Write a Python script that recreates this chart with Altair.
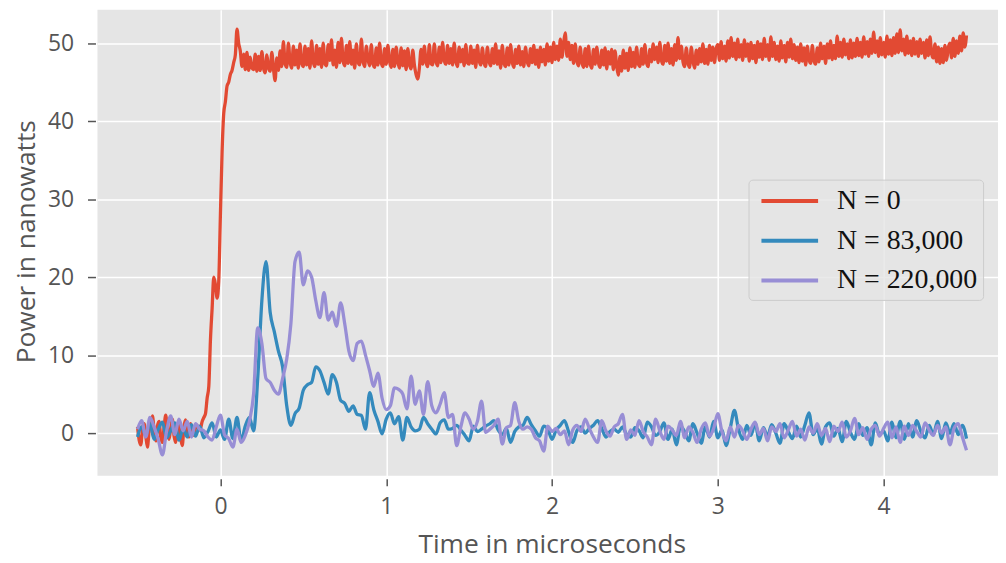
import altair as alt
import pandas as pd

# ---------------- data ----------------
series_names = ["N = 0", "N = 83,000", "N = 220,000"]
series_colors = ["#E24A33", "#348ABD", "#988ED5"]
x_ticks = [0, 1, 2, 3, 4]
y_ticks = [0, 10, 20, 30, 40, 50]

# N = 0 : sampled every 0.01 us starting at -0.5 us
red_t0 = -0.5
red_dt = 0.01
red_vals = [
    # -0.50 .. -0.11
    0.8, -0.9, -1.5, 0.6, 1.2, -0.4, -1.8, 0.3, 1.0, 2.2,
    0.4, -1.0, 0.9, 1.5, -0.5, -1.2, 0.7, 2.3, 0.5, -0.8,
    0.6, 1.8, -0.3, -1.2, 0.4, 1.1, -0.6, -1.6, 0.8, 1.7,
    0.2, -0.5, 1.2, 0.5, -0.3, 0.8, 1.0, 0.4, 0.6, 1.5,
    # -0.10 .. 0.19
    2.0, 2.5, 4.5, 6.0, 12.0, 16.0, 20.0, 19.0, 17.3, 19.5,
    28.0, 36.0, 41.0, 42.5, 44.5, 45.0, 46.0, 46.5, 47.5, 48.5,
    51.8, 50.0, 49.0, 47.0, 48.6, 46.6, 48.8, 46.5, 48.2, 46.8,
    # 0.20 .. 4.50
    46.6, 48.6, 46.4, 48.3, 46.5, 48.9, 46.8, 46.2, 48.5, 46.9,
    46.4, 48.8, 46.7, 45.2, 48.1, 46.5, 49.0, 47.0, 50.2, 47.4,
    46.9, 50.0, 47.6, 46.8, 49.6, 47.2, 49.1, 46.8, 49.9, 47.5,
    47.0, 49.6, 47.2, 49.3, 46.8, 50.3, 47.6, 47.0, 49.7, 47.3,
    49.3, 46.9, 50.0, 47.4, 47.1, 49.8, 47.8, 50.4, 47.2, 49.1,
    46.9, 50.1, 47.5, 50.6, 47.7, 47.1, 49.7, 47.4, 50.2, 47.3,
    49.1, 46.8, 49.9, 47.6, 47.2, 50.5, 47.7, 47.0, 49.6, 47.9,
    47.1, 49.8, 47.4, 46.9, 49.4, 47.2, 50.0, 47.5, 47.0, 49.3,
    47.3, 49.7, 47.7, 46.9, 49.2, 47.0, 49.5, 47.6, 46.8, 49.4,
    47.1, 49.0, 46.6, 49.3, 47.3, 46.7, 49.1, 47.2, 46.0, 45.4,
    46.8, 49.2, 47.3, 49.6, 47.6, 47.0, 49.8, 47.4, 47.2, 49.9,
    47.7, 47.1, 49.5, 47.5, 50.1, 47.8, 47.3, 49.7, 47.4, 49.3,
    47.2, 50.0, 47.7, 47.0, 49.5, 47.6, 49.2, 47.1, 49.8, 47.5,
    47.3, 49.6, 47.4, 49.1, 46.9, 49.7, 47.8, 47.2, 49.4, 47.5,
    47.0, 49.5, 47.7, 47.1, 49.3, 47.4, 49.9, 47.3, 49.0, 46.8,
    49.7, 47.5, 47.0, 49.4, 47.2, 49.8, 47.6, 46.9, 49.2, 47.4,
    49.6, 47.2, 48.9, 47.0, 49.5, 47.7, 47.1, 49.3, 47.5, 49.7,
    47.3, 49.1, 46.9, 49.5, 47.6, 49.2, 47.2, 49.9, 47.7, 49.5,
    47.5, 50.1, 47.9, 49.6, 47.8, 50.5, 48.2, 50.0, 51.3, 48.3,
    50.1, 47.9, 49.7, 47.4, 49.9, 47.7, 47.1, 49.5, 47.6, 46.9,
    49.3, 47.0, 49.6, 47.4, 46.8, 49.2, 47.3, 49.5, 47.5, 46.9,
    49.1, 47.2, 49.4, 46.7, 48.9, 47.3, 49.2, 46.6, 49.0, 47.1,
    45.9, 48.3, 46.4, 49.1, 46.8, 48.7, 46.5, 49.4, 47.0, 48.8,
    46.9, 49.5, 47.4, 47.0, 49.3, 47.3, 49.8, 47.5, 47.0, 49.2,
    47.6, 49.9, 47.9, 49.5, 47.5, 50.1, 47.8, 47.3, 49.7, 47.7,
    50.0, 47.4, 49.3, 47.2, 49.8, 47.8, 50.7, 48.0, 49.6, 47.6,
    47.0, 49.4, 47.5, 46.9, 49.5, 47.7, 46.8, 49.1, 47.3, 49.3,
    47.6, 49.9, 47.4, 49.2, 47.3, 49.7, 47.8, 49.5, 47.5, 49.3,
    49.8, 47.8, 50.2, 48.0, 49.6, 47.7, 50.3, 48.1, 50.7, 48.3,
    50.0, 47.9, 50.5, 48.2, 49.8, 47.8, 50.4, 48.3, 49.9, 47.7,
    50.1, 48.0, 49.7, 47.5, 50.2, 48.2, 49.9, 47.9, 50.6, 48.3,
    49.8, 47.8, 50.8, 48.3, 50.1, 47.9, 49.6, 47.7, 50.3, 48.1,
    49.7, 47.6, 50.1, 48.2, 50.5, 48.0, 49.8, 47.8, 49.5, 47.5,
    49.9, 47.7, 49.4, 47.2, 49.6, 47.9, 47.4, 49.7, 47.8, 47.3,
    49.4, 47.6, 50.0, 48.0, 49.6, 47.4, 49.9, 48.1, 50.3, 47.9,
    49.7, 48.0, 50.9, 48.3, 50.1, 48.2, 50.5, 48.5, 49.9, 48.0,
    50.4, 48.1, 50.0, 48.3, 50.6, 48.4, 50.1, 48.2, 50.8, 48.6,
    50.2, 48.3, 50.5, 48.7, 51.4, 48.8, 50.3, 48.3, 50.7, 48.5,
    50.1, 48.2, 50.9, 48.6, 50.4, 48.4, 50.7, 48.7, 51.2, 48.8,
    51.7, 49.0, 50.5, 48.5, 50.9, 48.7, 50.3, 48.4, 50.6, 48.6,
    50.2, 48.3, 50.5, 48.7, 50.1, 48.1, 50.4, 48.4, 50.8, 48.6,
    48.1, 49.9, 47.6, 49.5, 47.4, 49.3, 47.5, 49.7, 47.8, 49.4,
    50.0, 48.1, 50.6, 48.3, 50.3, 48.7, 50.9, 49.0, 51.3, 49.5,
    51.0,
]

# N = 83,000 and N = 220,000 : sampled every 0.025 us starting at -0.5 us
t0 = -0.5
dt = 0.025
blue_vals = [
    -0.5, 0.8, -0.3, 1.2, -0.8, 0.5, 1.4, -0.6,
    0.3, 1.3, -0.9, 0.6, -0.5, 1.1, -0.4, 0.9,
    -0.6, 0.2, 1.3, -0.5, 0.4, -0.8, 1.8, -0.7,
    2.0, -1.0, 0.9, 2.0, 0.3, 7.0, 17.0, 22.0,
    15.5, 13.0, 10.5, 8.5, 3.5, 1.0, 2.5, 3.2,
    5.5, 6.2, 6.5, 8.5, 8.0, 6.5, 5.0, 7.5,
    6.5, 4.2, 3.8, 2.8, 3.5, 2.4, 2.3, 0.5,
    5.2, 3.0, 1.5, -0.1, 1.8, 2.6, 1.2, 2.1,
    -0.9, 2.0, 0.8, 0.3, 0.5, 2.0, 1.2, 0.5,
    -0.1, 1.3, 1.7, 0.5, 0.6, 1.0, 0.4, -0.3,
    -1.0, 0.9, 0.2, 0.5, 0.9, 1.2, 1.6, 0.4,
    -0.2, 0.6, -1.2, 0.2, 0.8, 1.0, 2.0, 1.1,
    0.3, -0.4, 0.9, 0.5, -0.8, 0.4, 1.0, 1.6,
    0.2, -1.2, 0.3, 0.8, 0.0, 0.6, 1.0, 1.6,
    0.6, -0.5, 0.2, 0.5, 0.1, 0.8, -0.2, -0.5,
    0.7, 0.3, -0.6, 1.4, 0.8, -0.3, 0.2, 1.3,
    -0.8, 0.5, -1.5, 0.9, 0.2, -1.0, 1.2, 0.0,
    -1.3, 0.8, -0.5, 1.5, -0.6, 0.4, -1.6, 0.6,
    2.9, 0.5, -0.8, 1.0, -0.3, 1.3, -1.0, 0.7,
    -0.4, 1.1, 0.0, -1.3, 1.2, 0.2, -0.7, 0.9,
    -0.5, 1.0, 2.6, -0.2, 0.6, -1.4, 0.8, 1.3,
    -0.4, 0.6, -1.1, 1.5, 0.1, -0.8, 1.2, -0.3,
    0.7, -1.5, 1.3, -0.2, 0.3, -1.0, 1.4, -0.6,
    1.5, -0.8, 1.2, -0.5, 1.6, 0.2, -0.6, 1.0,
    -0.2, 1.5, -0.7, 1.3, 0.0, 1.2, -0.2, 1.0,
    -0.7,
]
purple_vals = [
    0.5, 1.6, -0.5, 2.0, 0.8, -0.8, -2.8, 0.2,
    2.2, -0.2, 1.8, 0.3, 1.5, -0.5, 1.2, 0.5,
    0.3, -0.5, -0.9, 0.8, 2.3, -0.2, -0.7, -1.8,
    0.5, -1.2, -0.3, 1.5, 5.0, 13.5, 11.5, 7.0,
    6.5, 5.5, 5.0, 7.0, 9.5, 14.0, 22.0, 23.2,
    19.0, 20.8, 20.0, 17.0, 14.8, 18.0, 14.5, 15.5,
    13.7, 16.7, 14.0, 10.5, 9.3, 11.5, 11.8, 10.0,
    8.0, 6.0, 7.7, 4.5, 3.0, 3.5, 5.8, 5.6,
    5.0, 3.1, 7.3, 3.7, 5.4, 2.4, 6.6, 3.5,
    2.6, 3.7, 5.2, 2.0, 2.4, -1.6, 0.8, 2.6,
    1.8, 0.5, 1.5, 4.1, 0.1, 0.5, 1.0, 1.8,
    -1.4, 0.7, 1.0, 3.9, 1.5, 0.5, 0.8, 0.5,
    -0.6, -1.0, -2.3, 0.9, 0.2, 0.6, -0.2, 0.3,
    -1.5, 0.4, 1.0, 0.2, 1.8, 0.6, -0.5, -1.2,
    1.6, 0.3, -0.4, 0.8, 1.2, 2.4, -0.8, 0.4,
    -0.3, 1.6, 0.2, -0.5, -1.5, 1.8, 0.3, -0.8,
    0.9, 0.4, -0.3, 1.5, -0.6, 0.8, 0.1, -1.2,
    0.5, 1.3, -0.4, 0.6, 2.5, 0.2, -1.0, 0.8,
    -0.5, 1.0, 0.3, -0.8, 0.5, 1.4, -0.2, 0.6,
    -1.0, 0.8, 0.2, 1.2, -0.6, 0.4, 1.5, -0.4,
    0.5, -0.9, 0.8, 0.0, 1.2, -0.3, 0.6, -1.1,
    0.9, 0.2, 1.4, -0.5, 0.3, 1.9, -0.2, 0.7,
    -0.8, 0.5, 1.0, -0.4, 0.6, 1.4, -0.6, 0.8,
    -1.2, 0.9, -0.3, 1.0, 0.2, -0.5, 1.3, 0.4,
    -0.3, 1.0, 0.0, 0.8, -1.5, 0.6, 1.2, -0.5,
    -2.2,
]

# ---------------- long table ----------------
rows = []
for i, v in enumerate(red_vals):
    rows.append({"t": round(red_t0 + red_dt * i, 4), "p": v, "s": series_names[0]})
for i, v in enumerate(blue_vals):
    rows.append({"t": round(t0 + dt * i, 4), "p": v, "s": series_names[1]})
for i, v in enumerate(purple_vals):
    rows.append({"t": round(t0 + dt * i, 4), "p": v, "s": series_names[2]})
df = pd.DataFrame(rows)

FONT = "Open Sans"
GREY = "#555555"

chart = (
    alt.Chart(df)
    .mark_line(strokeWidth=3.3, strokeJoin="round", interpolate="monotone", clip=True)
    .encode(
        x=alt.X(
            "t:Q",
            scale=alt.Scale(domain=[-0.7416, 4.690], nice=False, zero=False),
            axis=alt.Axis(
                values=x_ticks, format="d", title="Time in microseconds",
                offset=3, tickSize=7, tickWidth=1.5, tickColor=GREY,
                labelFont=FONT, labelFontSize=23, labelColor=GREY,
                labelBaseline="alphabetic", labelPadding=28,
                titleFont=FONT, titleFontSize=26.5, titleColor=GREY,
                titleFontWeight="normal", titleBaseline="alphabetic",
                titleX=457, titleY=74,
                domain=False, grid=True, gridColor="white", gridWidth=1.5,
            ),
        ),
        y=alt.Y(
            "p:Q",
            scale=alt.Scale(domain=[-5.48, 54.29], nice=False, zero=False),
            axis=alt.Axis(
                values=y_ticks, format="d", title="Power in nanowatts",
                offset=2, tickSize=8, tickWidth=1.5, tickColor=GREY,
                labelFont=FONT, labelFontSize=23, labelColor=GREY,
                labelPadding=14,
                titleFont=FONT, titleFontSize=26.5, titleColor=GREY,
                titleFontWeight="normal", titleBaseline="alphabetic",
                titleAngle=-90, titleX=-61, titleY=233,
                domain=False, grid=True, gridColor="white", gridWidth=1.5,
            ),
        ),
        color=alt.Color(
            "s:N",
            scale=alt.Scale(domain=series_names, range=series_colors),
            sort=series_names,
            legend=alt.Legend(
                title=None, orient="none", legendX=655, legendY=171,
                symbolType="M-2,0H2", symbolSize=812, symbolStrokeWidth=4,
                symbolOffset=20,
                labelFont="Liberation Serif", labelFontSize=28, labelColor="#111111",
                labelOffset=31, labelLimit=400,
                padding=5, rowPadding=9,
                fillColor="rgba(229,229,229,0.8)", strokeColor="#cccccc",
                cornerRadius=4,
            ),
        ),
    )
    .properties(
        width=906,
        height=469,
        autosize=alt.AutoSizeParams(type="none"),
        padding={"left": 90, "top": 0, "right": 0, "bottom": 86},
        background="white",
    )
    .configure_view(fill="#E5E5E5", stroke=None)
)

chart.save("out.html", embed_options={"renderer": "svg", "actions": False})
